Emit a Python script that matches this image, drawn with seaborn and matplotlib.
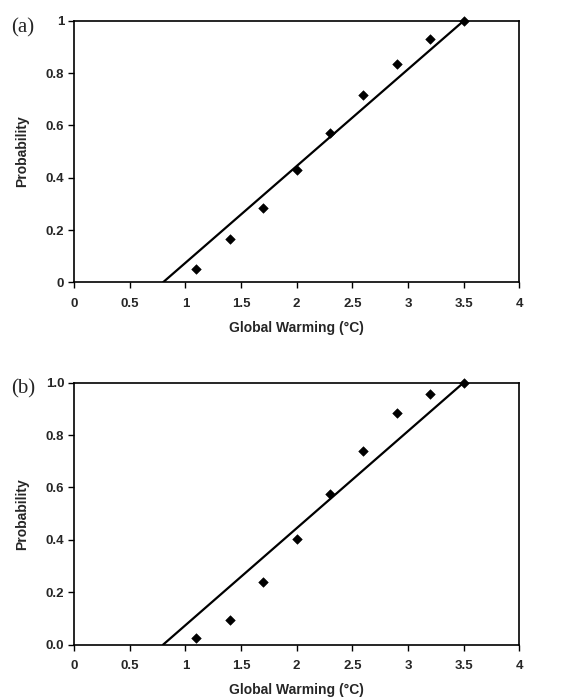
import seaborn as sns
import matplotlib.pyplot as plt
import numpy as np

# observed points
warming = [1.1, 1.4, 1.7, 2.0, 2.3, 2.6, 2.9, 3.2, 3.5]
prob_a = [0.05, 0.165, 0.285, 0.43, 0.57, 0.715, 0.835, 0.93, 1.0]
prob_b = [0.025, 0.095, 0.24, 0.405, 0.575, 0.74, 0.885, 0.955, 1.0]

# fitted line endpoints
fit_x = [0.8, 3.5]
fit_y = [0.0, 1.0]

x_ticks = [0, 0.5, 1, 1.5, 2, 2.5, 3, 3.5, 4]
x_tick_labels = ["0", "0.5", "1", "1.5", "2", "2.5", "3", "3.5", "4"]
y_ticks = [0, 0.2, 0.4, 0.6, 0.8, 1.0]
y_labels_a = ["0", "0.2", "0.4", "0.6", "0.8", "1"]
y_labels_b = ["0.0", "0.2", "0.4", "0.6", "0.8", "1.0"]

sns.set_style("ticks")
plt.rcParams['font.family'] = ['Liberation Sans', 'DejaVu Sans']

fig = plt.figure(figsize=(5.65, 6.97), dpi=100)
ax_a = fig.add_axes([0.131, 0.595, 0.788, 0.375])
ax_b = fig.add_axes([0.131, 0.075, 0.788, 0.376])

panels = [(ax_a, prob_a, y_labels_a, "(a)"), (ax_b, prob_b, y_labels_b, "(b)")]
for ax, probs, ylabels, tag in panels:
    sns.lineplot(x=fit_x, y=fit_y, ax=ax, color="black", linewidth=1.6)
    sns.scatterplot(x=warming, y=probs, ax=ax, marker="D", s=24, color="black",
                    edgecolor="black", zorder=3, clip_on=False)
    ax.set_xlim(0, 4)
    ax.set_ylim(0, 1)
    ax.set_xticks(x_ticks)
    ax.set_xticklabels(x_tick_labels, fontsize=9.5, fontweight="bold")
    ax.set_yticks(y_ticks)
    ax.set_yticklabels(ylabels, fontsize=9.5, fontweight="bold")
    ax.tick_params(direction="out", length=4, width=1, color="black")
    ax.tick_params(axis="x", pad=7)
    ax.tick_params(axis="y", pad=3)
    ax.set_xlabel("Global Warming (°C)", fontsize=10, fontweight="bold", labelpad=8)
    ax.set_ylabel("Probability", fontsize=10, fontweight="bold", labelpad=12)
    for spine in ax.spines.values():
        spine.set_visible(True)
        spine.set_linewidth(1.2)
        spine.set_color("black")
    ax.text(-0.142, 0.975, tag, transform=ax.transAxes, fontsize=15,
            family="Liberation Serif", va="center", ha="left")

fig.savefig("out.png", dpi=100)
